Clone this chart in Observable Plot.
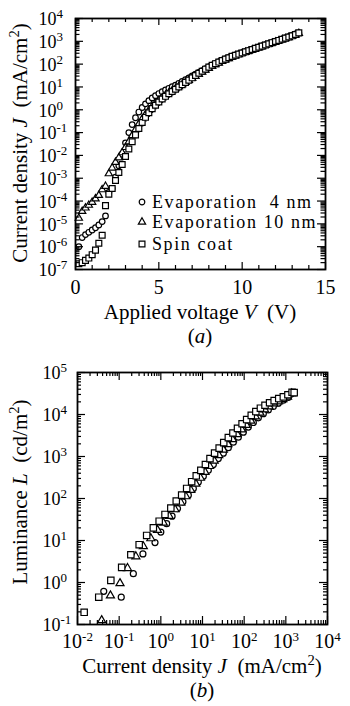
<!DOCTYPE html>
<html><head><meta charset="utf-8">
<script src="https://cdn.jsdelivr.net/npm/d3@7"></script>
<script src="https://cdn.jsdelivr.net/npm/@observablehq/plot@0.6"></script>
<style>
body{margin:0;background:#fff;}
#chart{width:350px;}
#chart svg{display:block;}
</style></head><body><div id="chart"></div>
<script>
// ---------- Panel (a): J–V ----------
const voltage = [0.2,0.4,0.6,0.8,1.0,1.2,1.4,1.6,1.8,2.0,2.2,2.4,2.6,2.8,3.0,3.2,3.4,3.6,3.8,4.0,4.2,4.4,4.6,4.8,5.0,5.2,5.4,5.6,5.8,6.0,6.2,6.4,6.6,6.8,7.0,7.2,7.4,7.6,7.8,8.0,8.2,8.4,8.6,8.8,9.0,9.2,9.4,9.6,9.8,10.0,10.2,10.4,10.6,10.8,11.0,11.2,11.4,11.6,11.8,12.0,12.2,12.4,12.6,12.8,13.0,13.2,13.4];
const log10J_evap4 = [-6.0,-5.6,-5.47,-5.37,-5.27,-5.17,-5.05,-4.9,-4.65,-3.62,-3.45,-2.95,-2.45,-1.95,-1.45,-1.0,-0.65,-0.35,-0.1,0.1,0.26,0.4,0.52,0.62,0.71,0.79,0.87,0.94,1.01,1.08,1.16,1.24,1.32,1.4,1.48,1.56,1.64,1.72,1.8,1.88,1.96,2.03,2.1,2.17,2.23,2.29,2.35,2.4,2.45,2.5,2.55,2.6,2.65,2.7,2.75,2.8,2.85,2.9,2.95,3.0,3.05,3.1,3.15,3.2,3.26,3.33,3.36];
const log10J_evap10 = [-4.75,-4.45,-4.3,-4.18,-4.05,-3.9,-3.75,-3.5,-3.35,-2.8,-2.55,-2.3,-2.1,-1.88,-1.65,-1.4,-1.13,-0.87,-0.62,-0.4,-0.2,-0.02,0.14,0.28,0.41,0.53,0.64,0.74,0.84,0.93,1.02,1.11,1.2,1.29,1.38,1.47,1.56,1.65,1.74,1.82,1.9,1.98,2.05,2.12,2.19,2.25,2.31,2.37,2.42,2.47,2.52,2.57,2.62,2.67,2.72,2.77,2.82,2.87,2.92,2.97,3.02,3.07,3.12,3.17,3.22,3.28,3.35];
const log10J_spin = [-6.75,-6.7,-6.6,-6.5,-6.35,-6.15,-5.85,-5.5,-4.2,-3.7,-3.45,-3.1,-2.75,-2.4,-2.05,-1.72,-1.4,-1.1,-0.82,-0.56,-0.33,-0.13,0.05,0.2,0.34,0.47,0.59,0.7,0.8,0.9,1.0,1.1,1.2,1.3,1.4,1.5,1.6,1.69,1.78,1.87,1.95,2.02,2.09,2.16,2.22,2.28,2.34,2.39,2.44,2.49,2.54,2.59,2.64,2.69,2.74,2.79,2.84,2.89,2.94,2.99,3.04,3.09,3.14,3.19,3.24,3.3,3.37];

const seriesNames = ["Evaporation  4 nm", "Evaporation 10 nm", "Spin coat"];
const seriesSymbols = ["circle", "triangle", "square"];

const xTicksA = [0, 5, 10, 15];
const xMinorA = [1,2,3,4,6,7,8,9,11,12,13,14];
const yTicksA = [1e-7,1e-6,1e-5,1e-4,1e-3,1e-2,1e-1,1e0,1e1,1e2,1e3,1e4];

// ---------- Panel (b): L–J ----------
const log10J_b_evap4 = [-1.37,-0.95,-0.66,-0.43,-0.14,0.0,0.14,0.27,0.4,0.53,0.66,0.78,0.9,1.02,1.14,1.26,1.38,1.5,1.62,1.74,1.86,1.98,2.1,2.22,2.34,2.46,2.58,2.7,2.82,2.94,3.06,3.12];
const log10L_b_evap4 = [-0.21,-0.35,0.21,0.68,0.95,1.2,1.4,1.58,1.76,1.92,2.08,2.24,2.39,2.53,2.67,2.81,2.95,3.08,3.21,3.34,3.46,3.58,3.7,3.81,3.92,4.02,4.11,4.19,4.27,4.34,4.41,4.48];
const log10J_b_evap10 = [-1.42,-1.21,-0.98,-0.8,-0.6,-0.42,-0.24,-0.08,0.06,0.2,0.34,0.48,0.6,0.72,0.84,0.95,1.06,1.17,1.28,1.39,1.5,1.61,1.72,1.83,1.94,2.05,2.16,2.27,2.38,2.49,2.6,2.71,2.82,2.93,3.04,3.14];
const log10L_b_evap10 = [-0.9,-0.31,-0.02,0.34,0.62,0.86,1.05,1.25,1.42,1.58,1.74,1.9,2.05,2.2,2.35,2.49,2.63,2.77,2.9,3.03,3.16,3.29,3.41,3.53,3.64,3.75,3.85,3.95,4.04,4.12,4.19,4.26,4.31,4.36,4.42,4.5];
const log10J_b_spin = [-1.84,-1.49,-1.2,-0.94,-0.72,-0.52,-0.34,-0.18,-0.04,0.1,0.24,0.37,0.5,0.62,0.74,0.85,0.96,1.07,1.18,1.29,1.4,1.51,1.62,1.73,1.84,1.95,2.06,2.17,2.28,2.39,2.5,2.61,2.72,2.83,2.94,3.05,3.15,3.2];
const log10L_b_spin = [-0.71,-0.35,0.05,0.36,0.66,0.9,1.12,1.3,1.46,1.62,1.77,1.94,2.08,2.24,2.4,2.54,2.67,2.81,2.95,3.08,3.2,3.33,3.45,3.56,3.67,3.78,3.88,3.98,4.07,4.15,4.22,4.28,4.33,4.38,4.42,4.47,4.53,4.52];

const xTicksB = [1e-2,1e-1,1e0,1e1,1e2,1e3,1e4];
const yTicksB = [1e-1,1e0,1e1,1e2,1e3,1e4,1e5];

// ---------- helpers ----------
const FONT = "'Liberation Serif','Times New Roman',serif";
const expFmt = d => "10^" + Math.round(Math.log10(d));
function minorLog(lo, hi) { const out = []; for (let k = lo; k < hi; k++) for (let m = 2; m <= 9; m++) out.push(m * Math.pow(10, k)); return out; }

function supify(svg, supPx, raise) {
  d3.select(svg).selectAll('g[aria-label$="tick label"] text').each(function () {
    const m = (this.textContent || "").match(/^10\^(-?\d+)$/);
    if (!m) return;
    this.textContent = "";
    const t = d3.select(this);
    t.append("tspan").text("10");
    t.append("tspan").attr("dy", -raise).attr("font-size", supPx).text(m[1]);
  });
}
function addLabel(svg, x, y, rotate, parts, size) {
  const t = d3.select(svg).append("text")
    .attr("transform", `translate(${x},${y})` + (rotate ? " rotate(-90)" : ""))
    .attr("text-anchor", "middle").attr("font-family", FONT).attr("font-size", size).attr("fill", "black");
  for (const p of parts) {
    const s = t.append("tspan").text(p.t);
    if (p.i) s.attr("font-style", "italic");
    if (p.sup) s.attr("dy", -8).attr("font-size", size * 0.7);
    if (p.down) s.attr("dy", 8);
  }
  return t;
}
function tickMarks(major, minor, axis, inner, lenMaj, lenMin) {
  const out = [];
  const sw = 1.2;
  if (axis === "y") {
    out.push(Plot.tickY(major, {y: d => d, insetRight: inner - lenMaj, strokeWidth: sw}));
    out.push(Plot.tickY(major, {y: d => d, insetLeft: inner - lenMaj, strokeWidth: sw}));
    out.push(Plot.tickY(minor, {y: d => d, insetRight: inner - lenMin, strokeWidth: sw}));
    out.push(Plot.tickY(minor, {y: d => d, insetLeft: inner - lenMin, strokeWidth: sw}));
  } else {
    out.push(Plot.tickX(major, {x: d => d, insetTop: inner - lenMaj, strokeWidth: sw}));
    out.push(Plot.tickX(major, {x: d => d, insetBottom: inner - lenMaj, strokeWidth: sw}));
    out.push(Plot.tickX(minor, {x: d => d, insetTop: inner - lenMin, strokeWidth: sw}));
    out.push(Plot.tickX(minor, {x: d => d, insetBottom: inner - lenMin, strokeWidth: sw}));
  }
  return out;
}

// ---------- tables ----------
const tableA = [];
[log10J_evap4, log10J_evap10, log10J_spin].forEach((arr, s) =>
  arr.forEach((v, i) => tableA.push({series: s, V: voltage[i], J: Math.pow(10, v)})));
const tableB = [];
[[log10J_b_evap4, log10L_b_evap4], [log10J_b_evap10, log10L_b_evap10], [log10J_b_spin, log10L_b_spin]].forEach(([js, ls], s) =>
  js.forEach((v, i) => tableB.push({series: s, J: Math.pow(10, v), L: Math.pow(10, ls[i])})));

const rA = [2.8, 2.7, 3.3];
const rB = [3.0, 3.0, 3.6];

// ---------- Panel (a) ----------
const mA = {l: 75, r: 25, t: 18, b: 81};
const WA = 350, HA = 350;
const iwA = WA - mA.l - mA.r, ihA = HA - mA.t - mA.b;
const plotA = Plot.plot({
  width: WA, height: HA,
  marginLeft: mA.l, marginRight: mA.r, marginTop: mA.t, marginBottom: mA.b,
  style: {fontFamily: FONT, fontSize: "18px", background: "white", color: "black", overflow: "visible"},
  x: {domain: [0, 15]},
  y: {type: "log", domain: [1e-7, 1e4]},
  marks: [
    ...[0, 1, 2].map(s => Plot.dot(tableA.filter(d => d.series === s), {
      x: "V", y: "J", symbol: seriesSymbols[s], r: rA[s], stroke: "black", fill: "white", strokeWidth: 1.2
    })),
    ...tickMarks(yTicksA, minorLog(-7, 4), "y", iwA, 8, 4.5),
    ...tickMarks(xTicksA, xMinorA, "x", ihA, 7, 4),
    Plot.frame({strokeWidth: 1.8}),
    Plot.axisY({ticks: yTicksA, anchor: "left", tickSize: 0, tickPadding: 0, textAnchor: "start", dx: -37, dy: 1, tickFormat: expFmt, fontSize: 18}),
    Plot.axisX({ticks: xTicksA, anchor: "bottom", tickSize: 0, tickPadding: 10, fontSize: 20, tickFormat: d => String(d), label: null})
  ]
});
plotA.querySelectorAll('g[aria-label="y-axis label"], g[aria-label="x-axis label"]').forEach(n => n.remove());
supify(plotA, 13, 7);
addLabel(plotA, 27, 143, true, [{t: "Current density "}, {t: "J", i: true}, {t: "  (mA/cm"}, {t: "2", sup: true}, {t: ")", down: true}], 21);
addLabel(plotA, 200, 319, false, [{t: "Applied voltage "}, {t: "V", i: true}, {t: "  (V)"}], 21);
addLabel(plotA, 200, 343, false, [{t: "("}, {t: "a", i: true}, {t: ")"}], 21);
// legend
const leg = d3.select(plotA).append("g").attr("font-family", FONT).attr("font-size", 18).attr("text-anchor", "start");
const legY = [208, 228, 250];
const symMap = {circle: d3.symbolCircle, triangle: d3.symbolTriangle, square: d3.symbolSquare};
seriesNames.forEach((name, s) => {
  leg.append("path").attr("d", d3.symbol(symMap[seriesSymbols[s]], Math.PI * rA[s] * rA[s])())
    .attr("transform", `translate(142,${legY[s] - 6})`).attr("fill", "white").attr("stroke", "black").attr("stroke-width", 1.2);
  leg.append("text").attr("x", 152).attr("y", legY[s]).attr("text-anchor", "start")
    .attr("letter-spacing", 1.6).style("white-space", "pre").text(name);
});

// ---------- Panel (b) ----------
const mB = {l: 77, r: 23, t: 22, b: 82};
const WB = 350, HB = 356;
const iwB = WB - mB.l - mB.r, ihB = HB - mB.t - mB.b;
const plotB = Plot.plot({
  width: WB, height: HB,
  marginLeft: mB.l, marginRight: mB.r, marginTop: mB.t, marginBottom: mB.b,
  style: {fontFamily: FONT, fontSize: "18px", background: "white", color: "black", overflow: "visible"},
  x: {type: "log", domain: [1e-2, 1e4]},
  y: {type: "log", domain: [1e-1, 1e5]},
  marks: [
    ...[0, 1, 2].map(s => Plot.dot(tableB.filter(d => d.series === s), {
      x: "J", y: "L", symbol: seriesSymbols[s], r: rB[s], stroke: "black", fill: "white", strokeWidth: 1.2
    })),
    ...tickMarks(yTicksB, minorLog(-1, 5), "y", iwB, 8, 4),
    ...tickMarks(xTicksB, minorLog(-2, 4), "x", ihB, 8, 4),
    Plot.frame({strokeWidth: 1.8}),
    Plot.axisY({ticks: yTicksB, anchor: "left", tickSize: 0, tickPadding: 0, textAnchor: "start", dx: -35, dy: 1, tickFormat: expFmt, fontSize: 18}),
    Plot.axisX({ticks: xTicksB, anchor: "bottom", tickSize: 0, tickPadding: 9, fontSize: 20, tickFormat: expFmt, label: null})
  ]
});
plotB.querySelectorAll('g[aria-label="y-axis label"], g[aria-label="x-axis label"]').forEach(n => n.remove());
supify(plotB, 13, 7);
addLabel(plotB, 27, 142, true, [{t: "Luminance "}, {t: "L", i: true}, {t: "  (cd/m"}, {t: "2", sup: true}, {t: ")", down: true}], 21);
addLabel(plotB, 202, 323, false, [{t: "Current density "}, {t: "J", i: true}, {t: "  (mA/cm"}, {t: "2", sup: true}, {t: ")", down: true}], 21);
addLabel(plotB, 202, 347, false, [{t: "("}, {t: "b", i: true}, {t: ")"}], 21);

document.getElementById("chart").append(plotA, plotB);
</script>
</body></html>
